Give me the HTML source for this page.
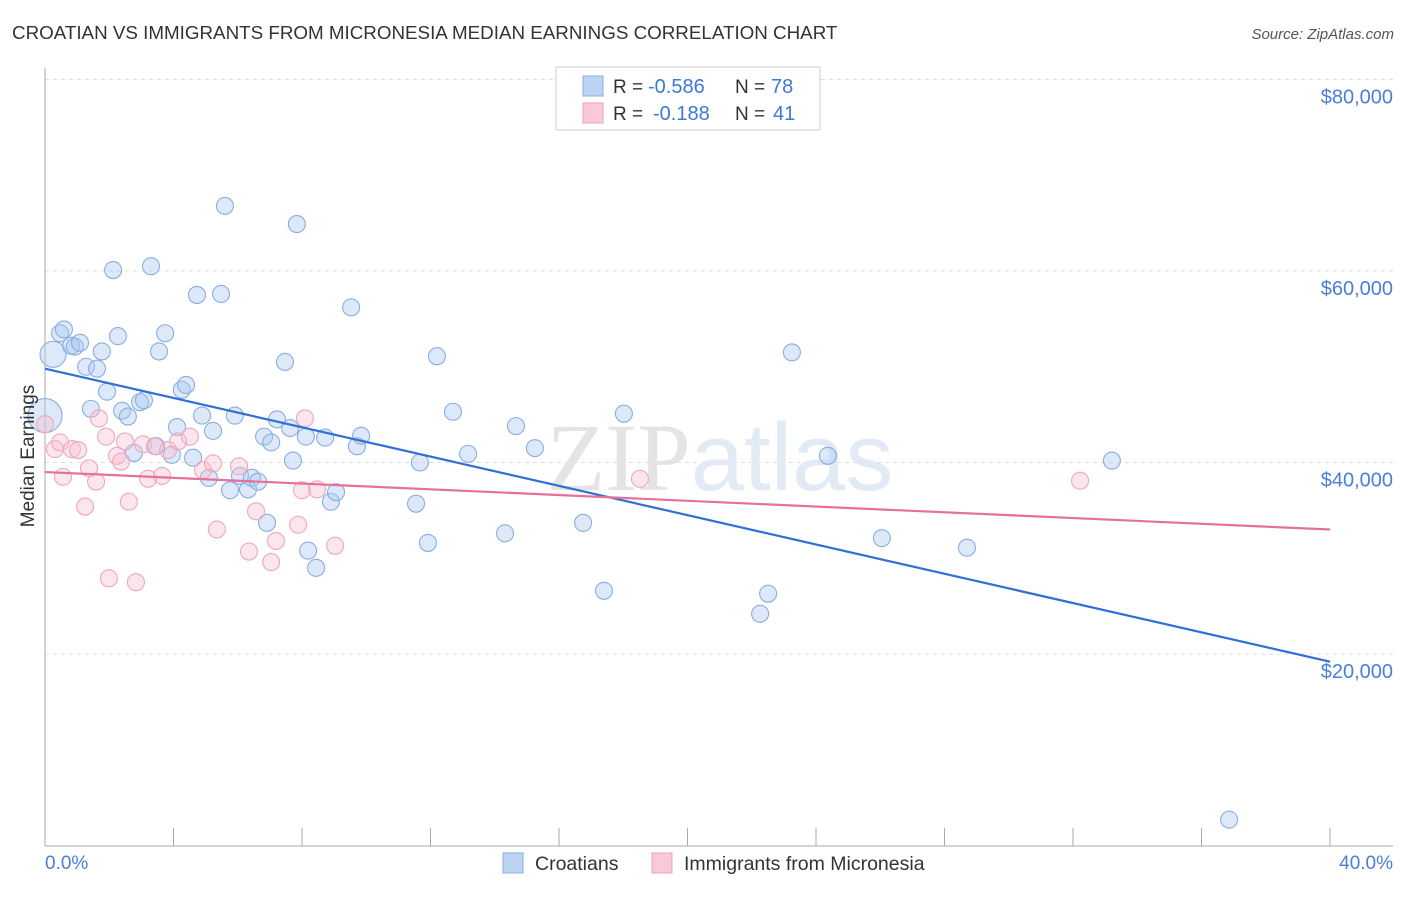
<!DOCTYPE html>
<html><head><meta charset="utf-8"><style>
body{margin:0;background:#fff;font-family:"Liberation Sans",sans-serif;}
svg text{font-family:"Liberation Sans",sans-serif;}
</style></head><body>
<svg id="chart" width="1406" height="892" xmlns="http://www.w3.org/2000/svg">
<text x="12" y="39" font-size="18.8" fill="#333">CROATIAN VS IMMIGRANTS FROM MICRONESIA MEDIAN EARNINGS CORRELATION CHART</text>
<text x="1394" y="39" font-size="15" fill="#555" font-style="italic" text-anchor="end">Source: ZipAtlas.com</text>
<g id="grid"></g>
<text x="720" y="490" font-size="96" text-anchor="middle"><tspan font-family="Liberation Serif" fill="#e4e4e4">ZIP</tspan><tspan fill="#e2eaf5">atlas</tspan></text>
<g id="marks"></g>
<text transform="translate(34,456) rotate(-90)" font-size="19" fill="#333" text-anchor="middle">Median Earnings</text>
<text x="45" y="869" font-size="19" fill="#4a7fd6">0.0%</text>
<text x="1393" y="869" font-size="19" fill="#4a7fd6" text-anchor="end">40.0%</text>
<g>
<rect x="556" y="67" width="264" height="63" fill="#fff" stroke="#ccc"/>
<rect x="583" y="76" width="20" height="20" fill="#bcd3f3" stroke="#8ab0e0"/>
<text x="613" y="93" font-size="19" fill="#333">R =</text>
<text x="648" y="93" font-size="20" fill="#3c78d8">-0.586</text>
<text x="735" y="93" font-size="19" fill="#333">N =</text>
<text x="771" y="93" font-size="20" fill="#3c78d8">78</text>
<rect x="583" y="103" width="20" height="20" fill="#f9c9d7" stroke="#f0a0b8"/>
<text x="613" y="120" font-size="19" fill="#333">R =</text>
<text x="653" y="120" font-size="20" fill="#3c78d8">-0.188</text>
<text x="735" y="120" font-size="19" fill="#333">N =</text>
<text x="773" y="120" font-size="20" fill="#3c78d8">41</text>
</g>
<g>
<rect x="503" y="853" width="20" height="20" fill="#bcd3f3" stroke="#8ab0e0"/>
<text x="535" y="870" font-size="19.5" fill="#333">Croatians</text>
<rect x="652" y="853" width="20" height="20" fill="#f9c9d7" stroke="#f0a0b8"/>
<text x="684" y="870" font-size="19.5" fill="#333">Immigrants from Micronesia</text>
</g>
</svg>
<script>
const yTicks=[20000,40000,60000,80000];
const yTickLabels=["$20,000","$40,000","$60,000","$80,000"];
const xTicks=[0,4,8,12,16,20,24,28,32,36,40];
const blueX=[0.25,0,0.47,0.59,0.81,0.93,1.09,1.28,1.62,1.77,1.93,1.43,2.12,2.27,2.40,2.58,2.77,2.96,3.08,3.30,3.55,3.74,3.46,3.95,4.11,4.26,4.39,4.61,4.73,4.89,5.10,5.23,5.48,5.60,5.76,5.91,6.07,6.32,6.44,6.63,6.82,6.91,7.04,7.22,7.47,7.63,7.72,7.84,8.12,8.19,8.44,8.72,8.90,9.06,9.53,9.71,9.84,11.55,11.67,11.92,12.20,12.70,13.17,14.32,14.66,15.25,16.75,17.40,18.02,22.26,22.51,23.25,24.37,26.05,28.70,33.21,36.86];
const blueY=[51300,44900,53500,53900,52200,52100,52500,50000,49800,51600,47400,45600,60100,53200,45400,44800,41000,46300,46500,60500,51600,53500,41700,40800,43700,47600,48100,40500,57500,44900,38400,43300,57600,66800,37100,44900,38600,37200,38400,38000,42700,33700,42100,44500,50500,43600,40200,64900,42700,30800,29000,42600,35900,36900,56200,41700,42800,35700,40000,31600,51100,45300,40900,32600,43800,41500,33700,26600,45100,24200,26300,51500,40700,32100,31100,40200,2700];
const blueR=[13,17];
const pinkX=[0,0.31,0.47,0.56,0.84,1.03,1.25,1.37,1.59,1.68,1.90,1.99,2.24,2.37,2.49,2.61,2.83,3.05,3.21,3.42,3.64,3.83,4.14,4.51,4.92,5.23,5.35,6.04,6.35,6.57,7.04,7.19,7.88,8.00,8.09,8.47,9.03,18.52,32.22];
const pinkY=[44000,41400,42100,38500,41400,41300,35400,39400,38000,44600,42700,27900,40700,40100,42200,35900,27500,41900,38300,41700,38600,41300,42200,42700,39200,39900,33000,39600,30700,34900,29600,31800,33500,37100,44600,37200,31300,38300,38100];
const blueTrend=[49800,19200];
const pinkTrend=[39000,33000];
const NS="http://www.w3.org/2000/svg";
const X=v=>45+v/40*1285;
const Y=v=>845.5-v/20000*191.5;
function mk(tag,attrs,parent){const e=document.createElementNS(NS,tag);for(const k in attrs)e.setAttribute(k,attrs[k]);parent.appendChild(e);return e;}
const grid=document.getElementById('grid'),marks=document.getElementById('marks');
yTicks.forEach((t,i)=>{
 const l=mk('line',{x1:45,x2:1393,y1:Y(t),y2:Y(t),stroke:'#ddd','stroke-dasharray':'4,4'},grid);
 
 
 const tx=mk('text',{x:1393,y:Y(t)+24,'font-size':20,fill:'#4a7fd6','text-anchor':'end'},grid);
 tx.textContent=yTickLabels[i];
 
 
});
const ax=mk('line',{x1:45,x2:45,y1:68,y2:846,stroke:'#aaa'},grid);


const bx=mk('line',{x1:45,x2:1393,y1:846,y2:846,stroke:'#aaa'},grid);


xTicks.forEach(t=>{
 const l=mk('line',{x1:X(t),x2:X(t),y1:828,y2:846,stroke:'#aaa'},grid);
 
 
});
blueX.forEach((x,i)=>{
 const c=mk('circle',{cx:X(x),cy:Y(blueY[i]),r:blueR[i]||8.5,fill:'rgba(170,200,240,0.4)',stroke:'#88aee2','stroke-width':1.1},marks);
 
 
});
pinkX.forEach((x,i)=>{
 const c=mk('circle',{cx:X(x),cy:Y(pinkY[i]),r:8.5,fill:'rgba(248,190,208,0.38)',stroke:'#f2a6bd','stroke-width':1.1},marks);
 
 
});
const bl=mk('line',{x1:X(0),y1:Y(blueTrend[0]),x2:X(40),y2:Y(blueTrend[1]),stroke:'#2f6fd6','stroke-width':2.2},marks);


const pl=mk('line',{x1:X(0),y1:Y(pinkTrend[0]),x2:X(40),y2:Y(pinkTrend[1]),stroke:'#e5709a','stroke-width':2.2},marks);


</script>
</body></html>
